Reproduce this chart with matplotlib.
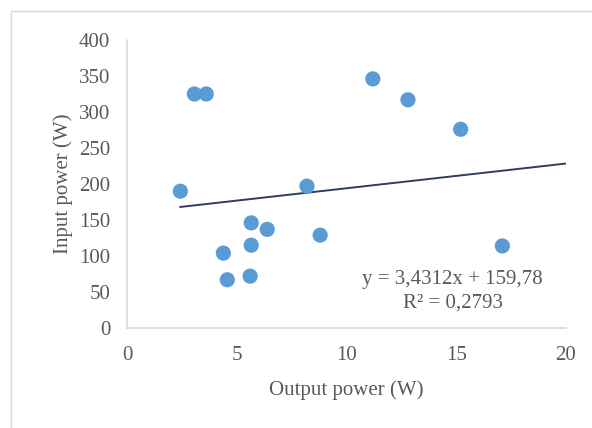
import numpy as np
import matplotlib
matplotlib.use('Agg')
import matplotlib.pyplot as plt
from matplotlib.patches import Rectangle

output_power = [2.43, 3.07, 3.61, 11.2, 12.8, 15.2, 8.2, 5.66, 6.39, 8.8, 5.66, 4.39, 4.57, 5.61, 17.1]
input_power = [190, 325, 325, 346, 317, 276, 197, 146, 137, 129, 115, 104, 67, 72, 114]

# linear trendline as printed on the chart
slope = 3.4312
intercept = 159.78
r_squared = 0.2793

plt.rcParams['font.family'] = ['Liberation Serif', 'DejaVu Serif']
gray = '#595959'
fs = 15

fig = plt.figure(figsize=(5.92, 4.28), dpi=100)
ax = fig.add_axes([127 / 592, 1 - 328 / 428, (566 - 127) / 592, (328 - 40) / 428])

# outer chart frame (only left/top edges visible in the crop)
fig.add_artist(Rectangle((11 / 592, -0.1), 1.2, 1 - 11 / 428 + 0.1, transform=fig.transFigure,
                         fill=False, edgecolor='#d9d9d9', linewidth=1.0))

ax.scatter(output_power, input_power, s=120, color='#5B9BD5', edgecolors='none', zorder=3)

x_fit = np.array([min(output_power), 20])
ax.plot(x_fit, slope * x_fit + intercept, color='#2F3E5C', linewidth=1.4, zorder=2)

ax.set_xlim(0, 20)
ax.set_ylim(0, 400)
ax.set_xticks(np.arange(0, 21, 5))
ax.set_yticks(np.arange(0, 401, 50))

for side in ['top', 'right']:
    ax.spines[side].set_visible(False)
for side in ['left', 'bottom']:
    ax.spines[side].set_color('#d9d9d9')
    ax.spines[side].set_linewidth(1.2)

ax.tick_params(length=0, labelsize=fs, labelcolor=gray)
ax.tick_params(axis='x', pad=13)
ax.tick_params(axis='y', pad=12)

ax.set_xlabel('Output power (W)', fontsize=fs, color=gray, labelpad=11)
ax.set_ylabel('Input power (W)', fontsize=fs, color=gray, labelpad=4)

eq = f'y = {slope}x + {intercept}'.replace('.', ',')
r2 = f'R² = {r_squared}'.replace('.', ',')
ax.text(14.83, 51, eq + '\n' + r2, ha='center', va='center', fontsize=fs, color=gray,
        linespacing=1.35)

fig.savefig('out.png', dpi=100)
